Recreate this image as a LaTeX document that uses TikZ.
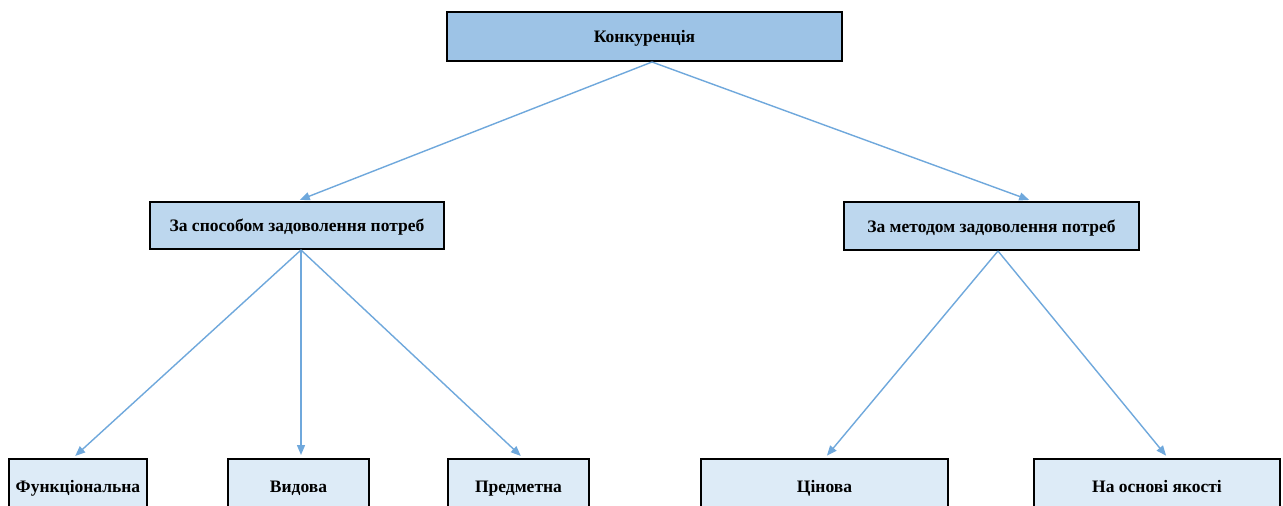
\documentclass[tikz,border=0pt]{standalone}
\usepackage{fontspec}
\setmainfont{Liberation Serif}
\usetikzlibrary{arrows.meta}
\definecolor{cTop}{HTML}{9DC3E6}
\definecolor{cMid}{HTML}{BDD7EE}
\definecolor{cBot}{HTML}{DDEBF7}
\definecolor{cArr}{HTML}{6FA8DC}
\tikzset{
  box/.style={draw=black, line width=2pt, inner sep=0pt, text height=12pt, text depth=0pt, font=\fontsize{17.5}{20}\selectfont\bfseries, text=black},
  conn/.style={draw=cArr, line width=1.4pt, -{Triangle[length=10pt,width=8pt]}, shorten >=3pt}
}
\begin{document}
\begin{tikzpicture}[x=1pt,y=-1pt]
\useasboundingbox (0,0) rectangle (1283,506);
\clip (0,0) rectangle (1283,506);
\fill[white] (0,0) rectangle (1283,506);
\node[box, fill=cTop, minimum width=395pt, minimum height=49pt] (top) at (644.5,36.5) {Конкуренція};
\node[box, fill=cMid, minimum width=294pt, minimum height=47pt] (ml) at (297,225.5) {За способом задоволення потреб};
\node[box, fill=cMid, minimum width=295pt, minimum height=48pt] (mr) at (991.5,226) {За методом задоволення потреб};
\node[box, fill=cBot, minimum width=138pt, minimum height=54pt] (b1) at (78,486) {Функціональна};
\node[box, fill=cBot, minimum width=141pt, minimum height=54pt] (b2) at (298.5,486) {Видова};
\node[box, fill=cBot, minimum width=141pt, minimum height=54pt] (b3) at (518.5,486) {Предметна};
\node[box, fill=cBot, minimum width=247pt, minimum height=54pt] (b4) at (824.5,486) {Цінова};
\node[box, fill=cBot, minimum width=246pt, minimum height=54pt] (b5) at (1157,486) {На основі якості};
\draw[conn] ([xshift=7.5pt]top.south) -- (ml.north);
\draw[conn] ([xshift=7.5pt]top.south) -- ([xshift=40.5pt]mr.north);
\draw[conn] ([xshift=4pt]ml.south) -- ([xshift=-5pt]b1.north);
\draw[conn] ([xshift=4pt]ml.south) -- ([xshift=2.5pt]b2.north);
\draw[conn] ([xshift=4pt]ml.south) -- ([xshift=4.5pt]b3.north);
\draw[conn] ([xshift=6.5pt]mr.south) -- ([xshift=0.5pt]b4.north);
\draw[conn] ([xshift=6.5pt]mr.south) -- ([xshift=11pt]b5.north);
\end{tikzpicture}
\end{document}
